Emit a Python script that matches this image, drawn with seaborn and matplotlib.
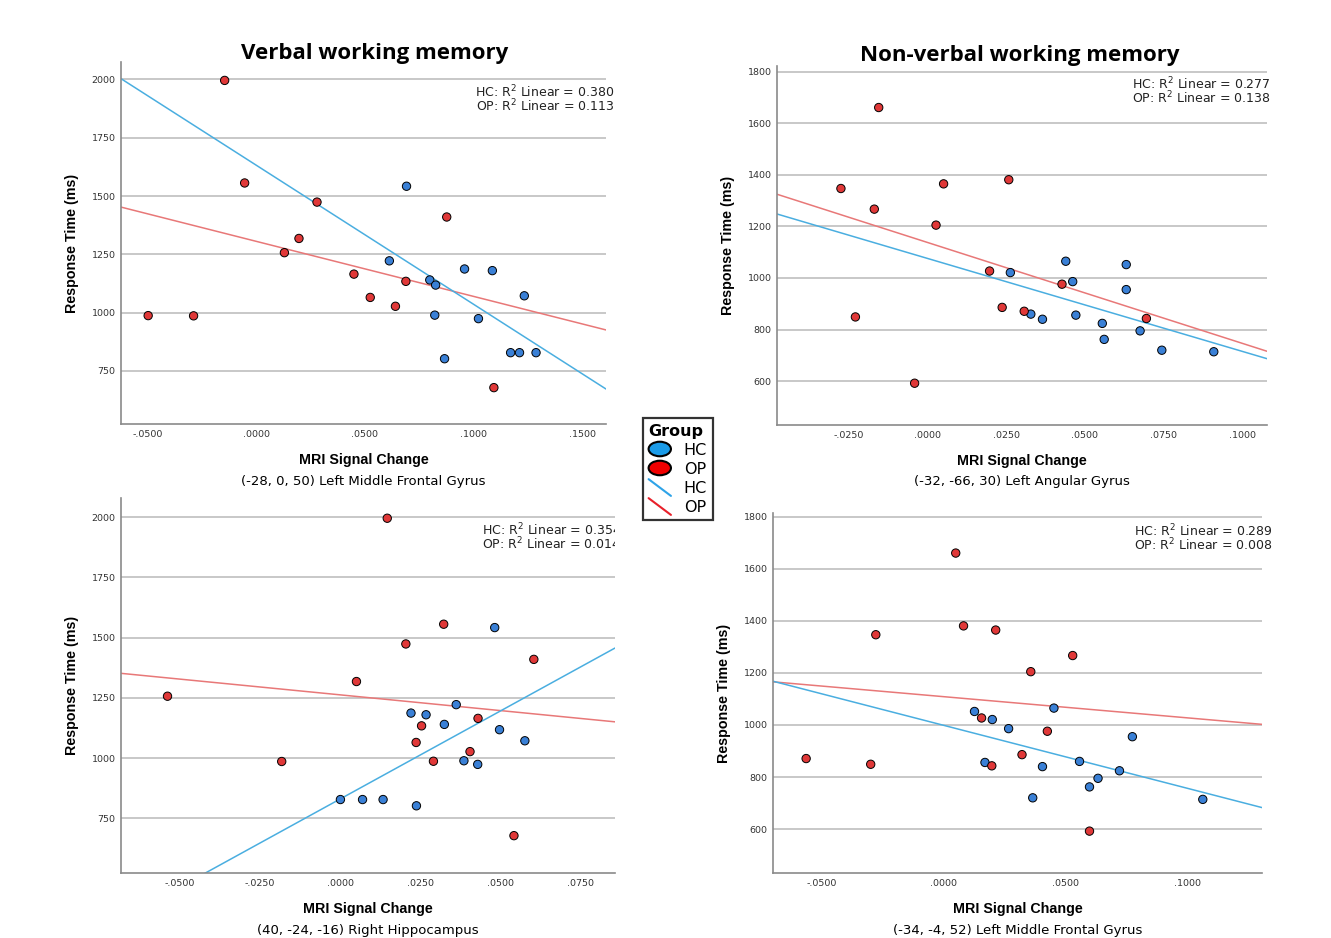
import pandas as pd
import matplotlib
matplotlib.use("Agg")
import matplotlib.pyplot as plt
import matplotlib.patches as mpatches
import matplotlib.transforms as mtrans
from matplotlib.lines import Line2D
from matplotlib.legend_handler import HandlerPatch, HandlerBase
import seaborn as sns

# response times (ms), same subjects in both regions of a task
verbal_hc_rt = [1542, 1222, 1187, 1180, 1140, 1118, 1072, 989, 974, 828, 828, 828, 802]
verbal_op_rt = [1996, 1556, 1474, 1410, 1318, 1257, 1165, 1134, 1065, 1027, 987, 986, 678]
nonverbal_hc_rt = [1065, 1052, 1021, 986, 955, 860, 856, 840, 824, 795, 762, 720, 714]
nonverbal_op_rt = [1661, 1381, 1365, 1347, 1267, 1205, 1027, 976, 886, 871, 849, 843, 592]

# MRI signal change per region
lmfg_verbal_hc = [0.0692, 0.0613, 0.0959, 0.1087, 0.0799, 0.0826, 0.1234, 0.0822, 0.1023, 0.1171, 0.1212, 0.1288, 0.0867]
lmfg_verbal_op = [-0.0145, -0.0053, 0.0280, 0.0877, 0.0197, 0.0130, 0.0450, 0.0689, 0.0525, 0.0641, -0.0497, -0.0288, 0.1094]
hipp_hc = [0.0482, 0.0362, 0.0221, 0.0268, 0.0325, 0.0497, 0.0576, 0.0386, 0.0429, 0.0001, 0.0070, 0.0134, 0.0238]
hipp_op = [0.0147, 0.0323, 0.0205, 0.0604, 0.0051, -0.0538, 0.0430, 0.0254, 0.0237, 0.0405, 0.0291, -0.0182, 0.0542]
angular_hc = [0.0439, 0.0631, 0.0263, 0.0461, 0.0631, 0.0328, 0.0471, 0.0365, 0.0555, 0.0675, 0.0561, 0.0744, 0.0909]
angular_op = [-0.0155, 0.0258, 0.0051, -0.0275, -0.0169, 0.0027, 0.0197, 0.0427, 0.0237, 0.0307, -0.0229, 0.0695, -0.0041]
lmfg_nonverbal_hc = [0.0453, 0.0127, 0.0200, 0.0267, 0.0775, 0.0558, 0.0170, 0.0406, 0.0722, 0.0634, 0.0599, 0.0366, 0.1064]
lmfg_nonverbal_op = [0.0050, 0.0082, 0.0214, -0.0278, 0.0530, 0.0358, 0.0156, 0.0426, 0.0322, -0.0564, -0.0299, 0.0198, 0.0599]

titles = ["Verbal working memory", "Non-verbal working memory"]
regions = ["(-28, 0, 50) Left Middle Frontal Gyrus", "(-32, -66, 30) Left Angular Gyrus",
           "(40, -24, -16) Right Hippocampus", "(-34, -4, 52) Left Middle Frontal Gyrus"]
r2_hc = ["0.380", "0.277", "0.354", "0.289"]
r2_op = ["0.113", "0.138", "0.014", "0.008"]
verbal_yticks = [750, 1000, 1250, 1500, 1750, 2000]
nonverbal_yticks = [600, 800, 1000, 1200, 1400, 1600, 1800]

HC_DOT, OP_DOT = "#3a80d6", "#e03838"
HC_LINE, OP_LINE = "#4aaee0", "#e87878"

sns.set_style("white")
plt.rcParams["font.family"] = ["DejaVu Sans"]
plt.rcParams["text.color"] = "black"

W, H = 1331, 938
fig = plt.figure(figsize=(W / 100, H / 100), dpi=100)


def px_rect(l, t, r, b):
    return [l / W, 1 - b / H, (r - l) / W, (b - t) / H]


panels = [
    dict(rect=px_rect(121, 62, 606, 424), hx=lmfg_verbal_hc, hy=verbal_hc_rt, ox=lmfg_verbal_op, oy=verbal_op_rt,
         xlim=(-0.0622, 0.161), ylim=(522, 2075), xticks=[-0.05, 0, 0.05, 0.10, 0.15], yticks=verbal_yticks,
         txt_dx=8, txt_dy=30, clip=False),
    dict(rect=px_rect(777, 66, 1267, 425), hx=angular_hc, hy=nonverbal_hc_rt, ox=angular_op, oy=nonverbal_op_rt,
         xlim=(-0.0478, 0.1078), ylim=(430, 1822), xticks=[-0.025, 0, 0.025, 0.05, 0.075, 0.10], yticks=nonverbal_yticks,
         txt_dx=3, txt_dy=18, clip=False),
    dict(rect=px_rect(121, 498, 615, 873), hx=hipp_hc, hy=verbal_hc_rt, ox=hipp_op, oy=verbal_op_rt,
         xlim=(-0.0683, 0.0857), ylim=(523, 2080), xticks=[-0.05, -0.025, 0, 0.025, 0.05, 0.075], yticks=verbal_yticks,
         txt_dx=6, txt_dy=32, clip=True),
    dict(rect=px_rect(773, 513, 1262, 873), hx=lmfg_nonverbal_hc, hy=nonverbal_hc_rt, ox=lmfg_nonverbal_op, oy=nonverbal_op_rt,
         xlim=(-0.070, 0.1307), ylim=(431, 1815), xticks=[-0.05, 0, 0.05, 0.10], yticks=nonverbal_yticks,
         txt_dx=10, txt_dy=18, clip=False),
]


def fmt(v):
    s = f"{v:.4f}"
    return s.replace("0.", ".", 1)


for i, p in enumerate(panels):
    ax = fig.add_axes(p["rect"])
    df = pd.DataFrame({
        "signal": p["hx"] + p["ox"],
        "rt": p["hy"] + p["oy"],
        "Group": ["HC"] * len(p["hx"]) + ["OP"] * len(p["ox"]),
    })
    ax.set_xlim(p["xlim"])
    ax.set_ylim(p["ylim"])
    for grp, col in [("OP", OP_LINE), ("HC", HC_LINE)]:
        sns.regplot(data=df[df["Group"] == grp], x="signal", y="rt", scatter=False, ci=None,
                    truncate=False, color=col, line_kws=dict(lw=1.1), ax=ax)
    sns.scatterplot(data=df, x="signal", y="rt", hue="Group", palette={"HC": HC_DOT, "OP": OP_DOT},
                    s=36, edgecolor="black", linewidth=0.7, legend=False, zorder=3, ax=ax)
    ax.set_xlim(p["xlim"])
    ax.set_ylim(p["ylim"])
    ax.set_xticks(p["xticks"])
    ax.set_xticklabels([fmt(v) for v in p["xticks"]])
    ax.set_yticks(p["yticks"])
    ax.set_xlabel("")
    ax.set_ylabel("")
    ax.grid(axis="y", color="#c8c8c8", lw=1.4)
    ax.grid(axis="x", visible=False)
    ax.set_axisbelow(True)
    ax.tick_params(length=0, labelsize=6.8, colors="#333333", pad=4)
    for side in ["top", "right"]:
        ax.spines[side].set_visible(False)
    for side in ["left", "bottom"]:
        ax.spines[side].set_color("#8a8a8a")
        ax.spines[side].set_linewidth(1.2)

    # R2 annotation at the top right, one line per group
    for k, txt in enumerate([f"HC: R$^2$ Linear = {r2_hc[i]}", f"OP: R$^2$ Linear = {r2_op[i]}"]):
        tr = mtrans.offset_copy(ax.transAxes, fig=fig, x=p["txt_dx"], y=-(p["txt_dy"] + 14 * k), units="dots")
        ax.text(1, 1, txt, transform=tr, ha="right", va="center", fontsize=9, color="#222222",
                clip_on=p["clip"])

    # axis labels
    ax.annotate("MRI Signal Change", xy=(0.5, 0), xycoords="axes fraction", xytext=(0, -36),
                textcoords="offset pixels", ha="center", va="center", fontsize=10.3,
                fontweight="bold", family="Liberation Sans")
    ax.annotate(regions[i], xy=(0.5, 0), xycoords="axes fraction", xytext=(0, -57),
                textcoords="offset pixels", ha="center", va="center", fontsize=9.5)
    ax.annotate("Response Time (ms)", xy=(0, 0.5), xycoords="axes fraction", xytext=(-49, 0),
                textcoords="offset pixels", ha="center", va="center", rotation=90, fontsize=10.3,
                fontweight="bold", family="Liberation Sans")

fig.text(375 / W, 1 - 54 / H, titles[0], ha="center", va="center", fontsize=16,
         fontweight="bold", family="Open Sans")
fig.text(1020 / W, 1 - 56 / H, titles[1], ha="center", va="center", fontsize=16,
         fontweight="bold", family="Open Sans")


# legend with oval markers and slanted line keys
def oval(legend, orig_handle, xdescent, ydescent, width, height, fontsize):
    return mpatches.Ellipse((width / 2 - xdescent, height / 2 - ydescent), width, height * 1.3)


class SlantLine(HandlerBase):
    def create_artists(self, legend, orig_handle, xdescent, ydescent, width, height, fontsize, trans):
        ln = Line2D([-xdescent, width - xdescent], [height * 1.2 - ydescent, -height * 0.3 - ydescent],
                    color=orig_handle.get_color(), lw=1.5)
        ln.set_transform(trans)
        return [ln]


handles = [
    mpatches.Patch(facecolor="#1a9be8", edgecolor="black", lw=1.5),
    mpatches.Patch(facecolor="#f00000", edgecolor="black", lw=1.5),
    Line2D([], [], color="#2ea3e8"),
    Line2D([], [], color="#e8202a"),
]
leg = fig.legend(handles=handles, labels=["HC", "OP", "HC", "OP"], title="Group",
                 loc="upper left", bbox_to_anchor=(643 / W, 1 - 418 / H), borderaxespad=0,
                 frameon=True, fancybox=False, edgecolor="black", fontsize=11.5,
                 title_fontproperties={"weight": "bold", "size": 11.5},
                 handler_map={mpatches.Patch: HandlerPatch(patch_func=oval), Line2D: SlantLine()},
                 handlelength=1.4, handletextpad=0.8, borderpad=0.35, labelspacing=0.25)
leg.get_frame().set_linewidth(1.6)
leg._legend_box.align = "left"

fig.savefig("out.png", dpi=100, facecolor="white")
